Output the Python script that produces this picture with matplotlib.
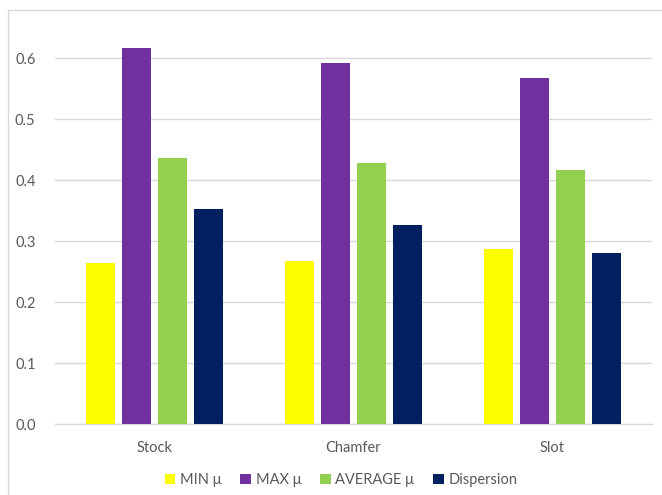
import matplotlib
matplotlib.use("Agg")
import matplotlib.pyplot as plt
from matplotlib.patches import Rectangle
import numpy as np

categories = ["Stock", "Chamfer", "Slot"]
series_names = ["MIN \u03bc", "MAX \u03bc", "AVERAGE \u03bc", "Dispersion"]
min_mu = [0.265, 0.267, 0.288]
max_mu = [0.617, 0.593, 0.567]
avg_mu = [0.436, 0.428, 0.417]
dispersion = [0.353, 0.327, 0.281]
y_ticks = [0.0, 0.1, 0.2, 0.3, 0.4, 0.5, 0.6]

colors = ["#FFFF00", "#7030A0", "#92D050", "#002060"]
text_color = "#595959"
grid_color = "#D9D9D9"

plt.rcParams["font.family"] = ["Lato", "DejaVu Sans"]

W, H = 662, 495
fig = plt.figure(figsize=(W / 100, H / 100), dpi=100)
fig.patch.set_facecolor("white")

# chart-area border (runs off the right and bottom edges)
fig.patches.append(Rectangle((8 / W, -0.05), 1.1, (H - 10) / H + 0.05,
                             transform=fig.transFigure, fill=False,
                             edgecolor=grid_color, linewidth=1.0))

ax = fig.add_axes([55 / W, (H - 424.3) / H, 597 / W, (424.3 - 27.8) / H])

x = np.arange(len(categories))
step = 0.181
width = 0.146
all_series = [min_mu, max_mu, avg_mu, dispersion]
for i, (vals, name, col) in enumerate(zip(all_series, series_names, colors)):
    ax.bar(x + (i - 1.5) * step, vals, width, color=col, label=name,
           edgecolor="none", zorder=3)

ax.set_xlim(-0.5, 2.5)
ax.set_ylim(0, 0.65)
ax.set_yticks(y_ticks)
ax.set_yticklabels([f"{t:.1f}" for t in y_ticks])
ax.set_xticks(x)
ax.set_xticklabels(categories)
ax.tick_params(axis="both", length=0, colors=text_color, labelsize=10.5)
ax.tick_params(axis="y", pad=14)
ax.tick_params(axis="x", pad=12)

ax.yaxis.grid(True, color=grid_color, linewidth=1.0, zorder=0)
ax.set_axisbelow(True)
for side in ["top", "right", "left"]:
    ax.spines[side].set_visible(False)
ax.spines["bottom"].set_color(grid_color)
ax.spines["bottom"].set_linewidth(1.0)

leg = fig.legend(loc="center", bbox_to_anchor=(341 / W, (H - 480) / H),
                 ncol=4, frameon=False, fontsize=10.5, handlelength=0.75,
                 handleheight=0.75, handletextpad=0.3, columnspacing=1.3)
for t in leg.get_texts():
    t.set_color(text_color)

fig.savefig("out.png", dpi=100, facecolor="white")
